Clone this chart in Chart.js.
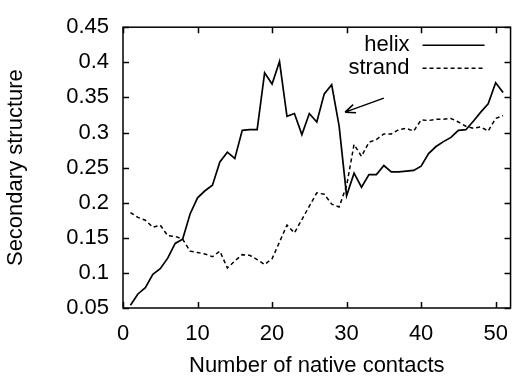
<!DOCTYPE html>
<html>
<head>
<meta charset="utf-8">
<script src="https://cdn.jsdelivr.net/npm/chart.js@4/dist/chart.umd.min.js"></script>
<style>
  html, body { margin: 0; padding: 0; background: #fff; }
  #wrap { width: 521px; height: 376px; }
</style>
</head>
<body>
<div id="wrap"><canvas id="c" width="521" height="376"></canvas></div>
<script>
// values
const contacts = [1, 2, 3, 4, 5, 6, 7, 8, 9, 10, 11, 12, 13, 14, 15, 16, 17, 18, 19, 20,
  21, 22, 23, 24, 25, 26, 27, 28, 29, 30, 31, 32, 33, 34, 35, 36, 37, 38, 39, 40,
  41, 42, 43, 44, 45, 46, 47, 48, 49, 50, 51];
const helix = [0.054, 0.070, 0.079, 0.098, 0.106, 0.121, 0.142, 0.148, 0.184, 0.207,
  0.217, 0.225, 0.258, 0.272, 0.263, 0.303, 0.304, 0.304, 0.385, 0.369,
  0.401, 0.323, 0.327, 0.297, 0.327, 0.315, 0.355, 0.368, 0.309, 0.210,
  0.242, 0.222, 0.240, 0.240, 0.253, 0.244, 0.244, 0.245, 0.246, 0.252,
  0.270, 0.280, 0.287, 0.293, 0.303, 0.304, 0.316, 0.329, 0.341, 0.371, 0.357];
const strand = [0.186, 0.179, 0.175, 0.165, 0.168, 0.153, 0.152, 0.148, 0.131, 0.129,
  0.127, 0.123, 0.131, 0.107, 0.117, 0.126, 0.125, 0.119, 0.112, 0.120,
  0.144, 0.168, 0.157, 0.176, 0.195, 0.214, 0.212, 0.198, 0.194, 0.224,
  0.283, 0.266, 0.286, 0.290, 0.298, 0.298, 0.304, 0.306, 0.302, 0.318,
  0.317, 0.319, 0.319, 0.320, 0.315, 0.309, 0.306, 0.308, 0.302, 0.320, 0.324];
const xTicks = [0, 10, 20, 30, 40, 50];
const yTicks = [0.05, 0.1, 0.15, 0.2, 0.25, 0.3, 0.35, 0.4, 0.45];
const yTickLabels = ['0.05', '0.1', '0.15', '0.2', '0.25', '0.3', '0.35', '0.4', '0.45'];
const seriesNames = ['helix', 'strand'];
// arrow pointing at the drop near 30 contacts: [x, y] tail and head
const arrowFrom = [35, 0.349];
const arrowTo = [29.8, 0.329];

const FONT = 'Liberation Sans, Arial, Helvetica, sans-serif';
const dashes = [[], [4, 3]];

const framePlugin = {
  id: 'frame',
  afterDatasetsDraw(chart) {
    const { ctx, chartArea: a, scales: { x, y } } = chart;
    ctx.save();
    ctx.strokeStyle = '#000';
    ctx.lineWidth = 1.5;
    ctx.strokeRect(a.left, a.top, a.right - a.left, a.bottom - a.top);
    ctx.beginPath();
    xTicks.forEach(v => {
      const px = Math.round(x.getPixelForValue(v)) + 0.5;
      ctx.moveTo(px, a.bottom); ctx.lineTo(px, a.bottom - 6);
      ctx.moveTo(px, a.top); ctx.lineTo(px, a.top + 6);
    });
    yTicks.forEach(v => {
      const py = Math.round(y.getPixelForValue(v)) + 0.5;
      ctx.moveTo(a.left, py); ctx.lineTo(a.left + 6, py);
      ctx.moveTo(a.right, py); ctx.lineTo(a.right - 6, py);
    });
    ctx.stroke();

    // legend, gnuplot style: text right-aligned, sample on the right
    ctx.font = '22px ' + FONT;
    ctx.fillStyle = '#000';
    ctx.textAlign = 'right';
    ctx.textBaseline = 'middle';
    seriesNames.forEach((name, i) => {
      const ly = a.top + 18 + i * 23;
      ctx.fillText(name, a.right - 101, ly);
      ctx.beginPath();
      ctx.setLineDash(dashes[i]);
      ctx.lineWidth = 1.5;
      ctx.moveTo(a.right - 88, ly);
      ctx.lineTo(a.right - 26, ly);
      ctx.stroke();
    });
    ctx.setLineDash([]);

    // arrow
    const x0 = x.getPixelForValue(arrowFrom[0]), y0 = y.getPixelForValue(arrowFrom[1]);
    const x1 = x.getPixelForValue(arrowTo[0]), y1 = y.getPixelForValue(arrowTo[1]);
    const ang = Math.atan2(y1 - y0, x1 - x0);
    ctx.beginPath();
    ctx.moveTo(x0, y0); ctx.lineTo(x1, y1);
    [-0.4, 0.4].forEach(d => {
      ctx.moveTo(x1, y1);
      ctx.lineTo(x1 - 11 * Math.cos(ang + d), y1 - 11 * Math.sin(ang + d));
    });
    ctx.stroke();
    ctx.restore();
  }
};

new Chart(document.getElementById('c'), {
  type: 'line',
  data: {
    datasets: [
      {
        label: seriesNames[0],
        data: contacts.map((c, i) => ({ x: c, y: helix[i] })),
        borderColor: '#000', borderWidth: 1.7, pointRadius: 0, tension: 0
      },
      {
        label: seriesNames[1],
        data: contacts.map((c, i) => ({ x: c, y: strand[i] })),
        borderColor: '#000', borderWidth: 1.5, borderDash: dashes[1], pointRadius: 0, tension: 0
      }
    ]
  },
  options: {
    responsive: false,
    animation: false,
    events: [],
    layout: { padding: { top: 20, right: 3, left: 0, bottom: 0 } },
    plugins: { legend: { display: false }, tooltip: { enabled: false } },
    scales: {
      x: {
        type: 'linear', min: 0, max: 52,
        grid: { display: false, drawTicks: false },
        border: { display: false },
        afterBuildTicks: s => { s.ticks = xTicks.map(v => ({ value: v })); },
        afterFit: s => { s.height = 68; },
        ticks: { color: '#000', font: { family: FONT, size: 22 }, padding: 13, maxRotation: 0 },
        title: { display: true, text: 'Number of native contacts', color: '#000',
          font: { family: FONT, size: 22 }, padding: { top: 0, bottom: -3 } }
      },
      y: {
        type: 'linear', min: 0.05, max: 0.45,
        grid: { display: false, drawTicks: false },
        border: { display: false },
        afterBuildTicks: s => { s.ticks = yTicks.map(v => ({ value: v })); },
        afterFit: s => { s.width = 123; },
        ticks: { color: '#000', font: { family: FONT, size: 22 }, padding: 14,
          callback: (v) => yTickLabels[yTicks.findIndex(t => Math.abs(t - v) < 1e-9)] },
        title: { display: true, text: 'Secondary structure', color: '#000',
          font: { family: FONT, size: 22 }, padding: { top: 3, bottom: 0 } }
      }
    }
  },
  plugins: [framePlugin]
});
</script>
</body>
</html>
